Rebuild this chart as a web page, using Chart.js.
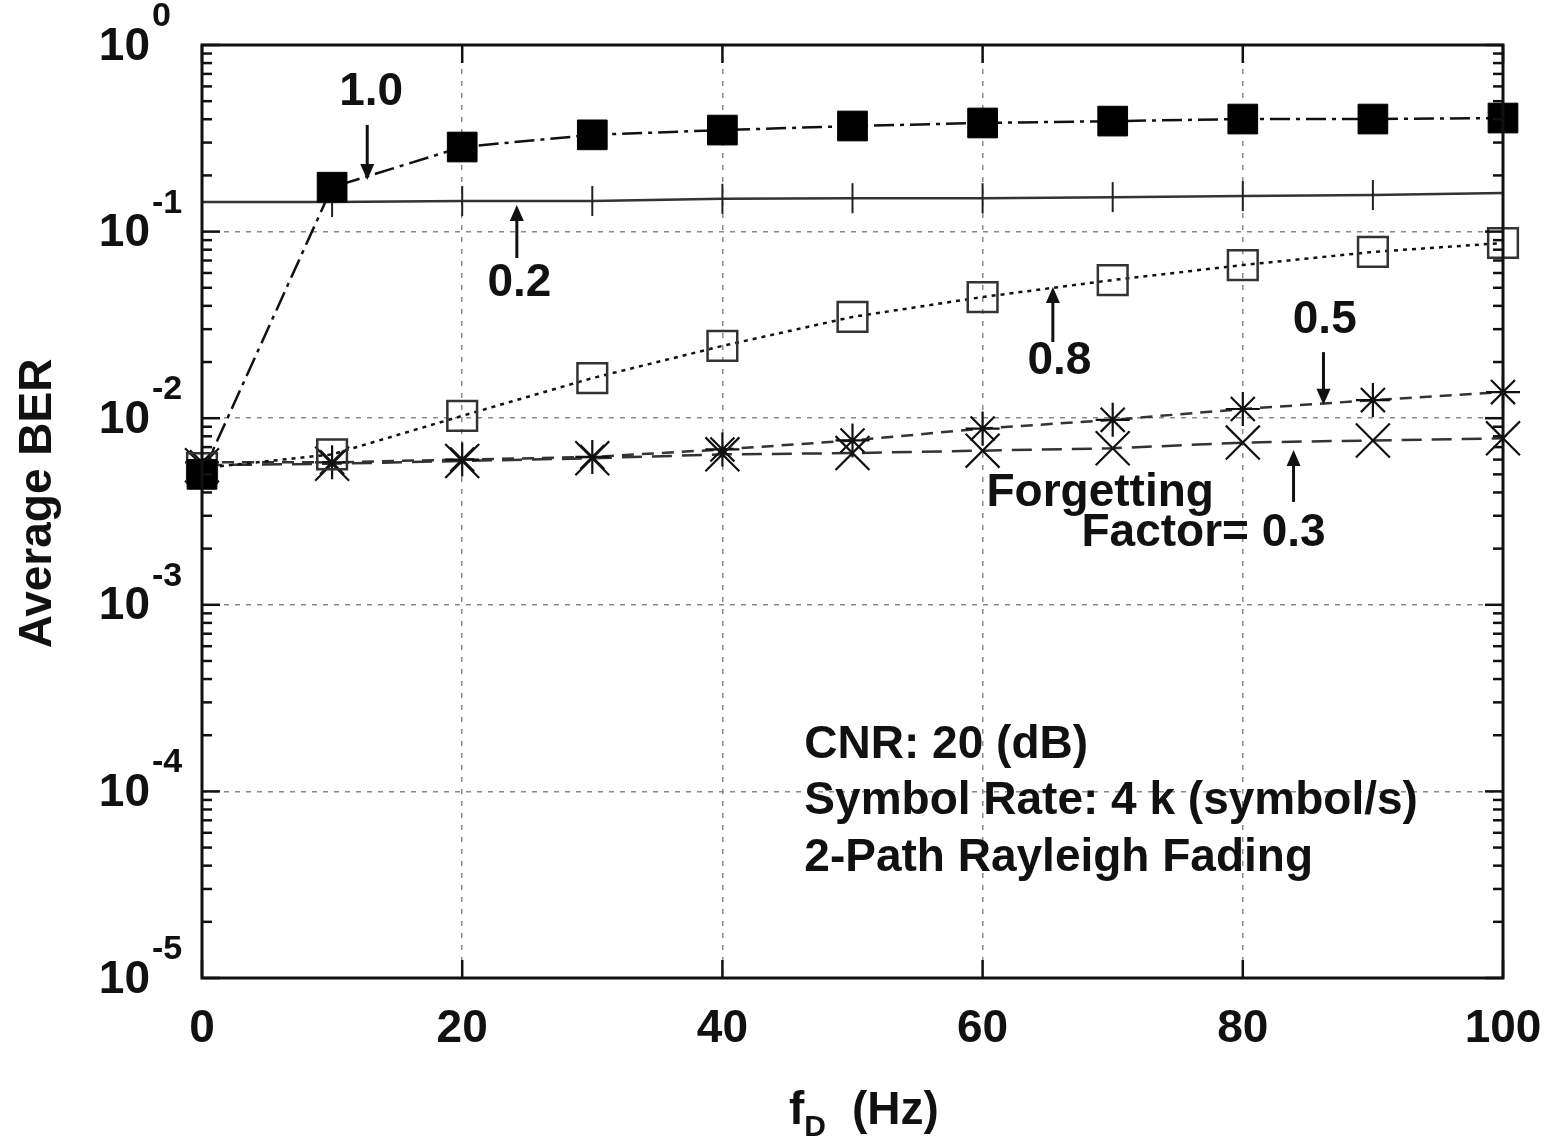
<!DOCTYPE html>
<html>
<head>
<meta charset="utf-8">
<script src="https://cdn.jsdelivr.net/npm/chart.js@4.4.1/dist/chart.umd.min.js"></script>
<style>
	html, body { margin: 0; background: #fff; }
	canvas { display: block; }
</style>
</head>
<body>
<canvas id="ber" width="1546" height="1138"></canvas>
<script>
// Doppler frequency (Hz) and average BER per forgetting factor.
var FD_HZ = [0, 10, 20, 30, 40, 50, 60, 70, 80, 90, 100]
var BER_FF10 = [0.0050, 0.173, 0.284, 0.330, 0.350, 0.368, 0.382, 0.391, 0.401, 0.401, 0.406]
var BER_FF02 = [0.144, 0.144, 0.146, 0.146, 0.150, 0.151, 0.151, 0.153, 0.155, 0.157, 0.161]
var BER_FF08 = [0.0054, 0.0064, 0.0103, 0.0164, 0.0244, 0.0349, 0.0446, 0.0550, 0.0662, 0.0778, 0.0869]
var BER_FF05 = [0.0058, 0.0058, 0.0060, 0.0062, 0.0068, 0.0076, 0.0088, 0.0098, 0.0112, 0.0125, 0.0138]
var BER_FF03 = [0.0056, 0.0057, 0.0059, 0.0061, 0.0064, 0.0065, 0.0067, 0.0069, 0.0074, 0.0076, 0.0078]

var X_TICKS = [0, 20, 40, 60, 80, 100]
var Y_DECADES = [-5, -4, -3, -2, -1, 0]

// In-plot labels and arrows, placed in data coordinates.
var LABELS = [
	{ text: "1.0", x: 13.0, y: 0.560, align: "center" },
	{ text: "0.2", x: 24.4, y: 0.0531, align: "center" },
	{ text: "0.8", x: 65.9, y: 0.0203, align: "center" },
	{ text: "0.5", x: 86.3, y: 0.0336, align: "center" },
	{ text: "Forgetting", x: 60.3, y: 0.00398, align: "left" },
	{ text: "Factor= 0.3", x: 67.6, y: 0.00243, align: "left" },
	{ text: "CNR: 20 (dB)", x: 46.3, y: 1.77e-4, align: "left" },
	{ text: "Symbol Rate: 4 k (symbol/s)", x: 46.3, y: 8.9e-5, align: "left" },
	{ text: "2-Path Rayleigh Fading", x: 46.3, y: 4.4e-5, align: "left" },
]
var ARROWS = [
	{ x: 12.7, from: 0.373, to: 0.189 },
	{ x: 24.2, from: 0.0722, to: 0.139 },
	{ x: 65.4, from: 0.0256, to: 0.0505 },
	{ x: 86.2, from: 0.0226, to: 0.0118 },
	{ x: 83.9, from: 0.00356, to: 0.00676 },
]

var FONT = '"Liberation Sans", Arial, Helvetica, sans-serif'
var GRID = "#8a8a8a"
var INK = "#111"

function bold(px) {
	return "bold " + px + "px " + FONT
}

function points(ys) {
	return FD_HZ.map(function (x, i) {
		return { x: x, y: ys[i] }
	})
}

function edgeless(ctx) {
	var n = ctx.scale.ticks.length
	return ctx.index === 0 || ctx.index === n - 1 ? "rgba(0,0,0,0)" : GRID
}

// Frame, inside ticks, superscript tick labels, axis titles and annotations.
var decor = {
	id: "decor",
	afterDraw: function (chart) {
		var ctx = chart.ctx
		var a = chart.chartArea
		var xs = chart.scales.x
		var ys = chart.scales.y

		function seg(x1, y1, x2, y2) {
			ctx.beginPath()
			ctx.moveTo(x1, y1)
			ctx.lineTo(x2, y2)
			ctx.stroke()
		}

		ctx.save()
		ctx.strokeStyle = INK
		ctx.fillStyle = INK
		ctx.lineWidth = 2.5

		Y_DECADES.forEach(function (p) {
			for (var m = 1; m <= 9; m++) {
				var v = m * Math.pow(10, p)
				if (v > 1.0001) break
				var py = ys.getPixelForValue(v)
				var len = m === 1 ? 18 : 10
				seg(a.left, py, a.left + len, py)
				seg(a.right, py, a.right - len, py)
			}
		})
		X_TICKS.forEach(function (t) {
			var px = xs.getPixelForValue(t)
			seg(px, a.top, px, a.top + 18)
			seg(px, a.bottom, px, a.bottom - 18)
		})

		ctx.lineWidth = 3
		ctx.strokeRect(a.left, a.top, a.right - a.left, a.bottom - a.top)

		// y tick labels: 10 with exponent
		Y_DECADES.forEach(function (p) {
			var py = ys.getPixelForValue(Math.pow(10, p))
			ctx.font = bold(46)
			ctx.textAlign = "right"
			ctx.textBaseline = "middle"
			ctx.fillText("10", a.left - 52, py + 2)
			ctx.font = bold(34)
			ctx.textAlign = "left"
			ctx.textBaseline = "alphabetic"
			ctx.fillText(String(p), a.left - 50, py - 19)
		})

		// y title
		ctx.save()
		ctx.translate(38, (a.top + a.bottom) / 2 - 8)
		ctx.rotate(-Math.PI / 2)
		ctx.font = bold(46)
		ctx.textAlign = "center"
		ctx.textBaseline = "middle"
		ctx.fillText("Average BER", 0, 0)
		ctx.restore()

		// x title: f_D (Hz)
		ctx.textAlign = "left"
		ctx.textBaseline = "alphabetic"
		ctx.font = bold(46)
		var x0 = 789
		ctx.fillText("f", x0, 1124)
		var x1 = x0 + ctx.measureText("f").width
		ctx.font = bold(30)
		ctx.fillText("D", x1, 1136)
		var x2 = x1 + ctx.measureText("D").width + 26
		ctx.font = bold(46)
		ctx.fillText("(Hz)", x2, 1124)

		// annotations
		ctx.font = bold(46)
		ctx.textBaseline = "middle"
		LABELS.forEach(function (l) {
			ctx.textAlign = l.align
			ctx.fillText(l.text, xs.getPixelForValue(l.x), ys.getPixelForValue(l.y))
		})

		ctx.lineWidth = 3
		ARROWS.forEach(function (ar) {
			var px = xs.getPixelForValue(ar.x)
			var y1 = ys.getPixelForValue(ar.from)
			var y2 = ys.getPixelForValue(ar.to)
			var dir = y2 > y1 ? 1 : -1
			seg(px, y1, px, y2 - dir * 8)
			ctx.beginPath()
			ctx.moveTo(px, y2)
			ctx.lineTo(px - 7, y2 - dir * 16)
			ctx.lineTo(px + 7, y2 - dir * 16)
			ctx.closePath()
			ctx.fill()
		})
		ctx.restore()
	},
}

new Chart(document.getElementById("ber"), {
	type: "line",
	data: {
		datasets: [
			{
				label: "1.0",
				data: points(BER_FF10),
				borderColor: INK,
				borderWidth: 2.5,
				borderDash: [20, 6, 4, 6],
				pointStyle: "rect",
				pointRadius: 21,
				pointBackgroundColor: "#000",
				pointBorderColor: "#000",
				pointBorderWidth: 1,
			},
			{
				label: "0.2",
				data: points(BER_FF02),
				borderColor: "#333",
				borderWidth: 2.5,
				pointStyle: "line",
				pointRotation: 90,
				pointRadius: 15,
				pointBorderColor: "#222",
				pointBorderWidth: 2,
			},
			{
				label: "0.8",
				data: points(BER_FF08),
				borderColor: INK,
				borderWidth: 2.5,
				borderDash: [4, 5],
				pointStyle: "rect",
				pointRadius: 21,
				pointBackgroundColor: "rgba(0,0,0,0)",
				pointBorderColor: "#333",
				pointBorderWidth: 2.5,
			},
			{
				label: "0.5",
				data: points(BER_FF05),
				borderColor: "#333",
				borderWidth: 2.5,
				borderDash: [12, 8],
				pointStyle: "star",
				pointRadius: 17,
				pointBorderColor: INK,
				pointBorderWidth: 2.2,
			},
			{
				label: "0.3",
				data: points(BER_FF03),
				borderColor: "#333",
				borderWidth: 2.5,
				borderDash: [20, 10],
				pointStyle: "crossRot",
				pointRadius: 24,
				pointBorderColor: INK,
				pointBorderWidth: 2.2,
			},
		].map(function (d) {
			d.tension = 0
			d.fill = false
			d.clip = false
			return d
		}),
	},
	options: {
		responsive: false,
		animation: false,
		layout: { padding: { left: 0, top: 45, right: 43, bottom: 0 } },
		plugins: { legend: { display: false }, tooltip: { enabled: false } },
		scales: {
			x: {
				type: "linear",
				min: 0,
				max: 100,
				afterBuildTicks: function (s) {
					s.ticks = X_TICKS.map(function (v) {
						return { value: v }
					})
				},
				afterFit: function (s) {
					s.height = 160
					s.paddingLeft = 0
					s.paddingRight = 0
				},
				ticks: { color: INK, font: { family: FONT, size: 46, weight: "bold" }, padding: 24, maxRotation: 0 },
				grid: { color: edgeless, lineWidth: 1.5, drawTicks: false },
				border: { display: false, dash: [5, 7] },
			},
			y: {
				type: "logarithmic",
				min: 1e-5,
				max: 1,
				afterBuildTicks: function (s) {
					s.ticks = Y_DECADES.map(function (p) {
						return { value: Math.pow(10, p) }
					})
				},
				afterFit: function (s) {
					s.width = 202
					s.paddingTop = 0
					s.paddingBottom = 0
				},
				ticks: { display: false },
				grid: { color: edgeless, lineWidth: 1.5, drawTicks: false },
				border: { display: false, dash: [5, 6] },
			},
		},
	},
	plugins: [decor],
})
</script>
</body>
</html>
